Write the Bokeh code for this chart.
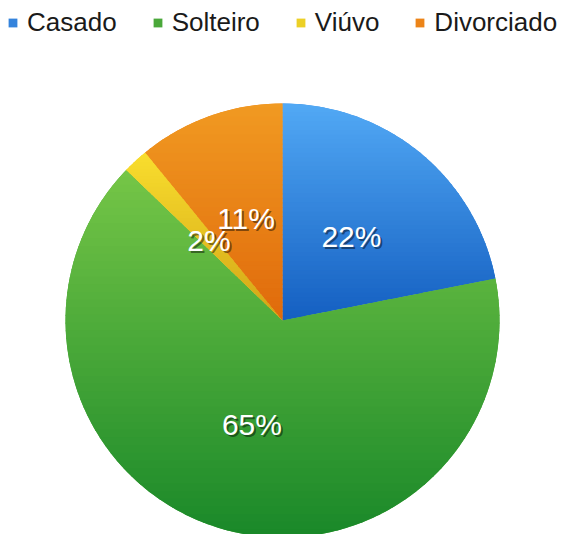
import math
from bokeh.plotting import figure
from bokeh.models import ColumnDataSource, Legend, LegendItem
from bokeh.core.properties import value
from bokeh.embed import file_html
from bokeh.resources import INLINE

categories = ["Casado", "Solteiro", "Viúvo", "Divorciado"]
shares = [21.9, 65.3, 1.9, 10.9]
labels = ["22%", "65%", "2%", "11%"]
colors = ["#3483dc", "#4aa83a", "#ecd026", "#ec8418"]
top_colors = ["#52a9f5", "#76c647", "#f9de2e", "#f19a22"]
bottom_colors = ["#145fc1", "#198829", "#d2a416", "#e06a0b"]

W, H = 566, 534
cx, cy, R = 282, H - 320, 217

total = sum(shares)
starts, ends, lx, ly = [], [], [], []
a = math.pi / 2
for s in shares:
    sweep = 2 * math.pi * s / total
    starts.append(a - sweep)
    ends.append(a)
    mid = a - sweep / 2
    lx.append(cx + 0.5 * R * math.cos(mid))
    ly.append(cy + 0.5 * R * math.sin(mid))
    a -= sweep

src = ColumnDataSource(dict(cat=categories, start=starts, end=ends, color=colors,
                            lx=lx, ly=ly, lab=labels,
                            sx=[v + 2 for v in lx], sy=[v - 2 for v in ly]))

p = figure(width=W, height=H, x_range=(0, W), y_range=(0, H),
           output_backend="svg", toolbar_location=None, min_border=0)
p.axis.visible = False
p.grid.visible = False
p.outline_line_color = None
p.background_fill_color = "white"
p.border_fill_color = "white"

r = p.wedge(x=cx, y=cy, radius=R, start_angle="start", end_angle="end",
            fill_color="color", line_color=None, source=src)


def hex2rgb(h):
    return tuple(int(h[i:i + 2], 16) for i in (1, 3, 5))


def mix(c1, c2, t):
    a1, a2 = hex2rgb(c1), hex2rgb(c2)
    return "#%02x%02x%02x" % tuple(int(round(a1[k] + (a2[k] - a1[k]) * t)) for k in range(3))


def clip(poly, yv, keep_above):
    out = []
    n = len(poly)
    for i in range(n):
        P, Q = poly[i], poly[(i + 1) % n]
        pin = (P[1] >= yv) if keep_above else (P[1] <= yv)
        qin = (Q[1] >= yv) if keep_above else (Q[1] <= yv)
        if pin:
            out.append(P)
        if pin != qin:
            t = (yv - P[1]) / (Q[1] - P[1])
            out.append((P[0] + t * (Q[0] - P[0]), yv))
    return out


# vertical gradient shading of each slice, built from the slice angles
gx, gy, gc = [], [], []
NB = 48
for i in range(len(shares)):
    n = max(8, int((ends[i] - starts[i]) * 60))
    poly = [(cx, cy)] + [(cx + R * math.cos(starts[i] + (ends[i] - starts[i]) * k / n),
                          cy + R * math.sin(starts[i] + (ends[i] - starts[i]) * k / n))
                         for k in range(n + 1)]
    ys = [q[1] for q in poly]
    ytop, ybot = max(ys), min(ys)
    for b in range(NB):
        y1 = ytop - (ytop - ybot) * b / NB
        y0 = ytop - (ytop - ybot) * (b + 1) / NB
        band = clip(clip(poly, y0 - 0.6, True), y1 + 0.6, False)
        if len(band) < 3:
            continue
        gx.append([q[0] for q in band])
        gy.append([q[1] for q in band])
        gc.append(mix(top_colors[i], bottom_colors[i], (b + 0.5) / NB))

p.patches(xs=gx, ys=gy, fill_color=gc, line_color=None)

p.text(x="sx", y="sy", text="lab", source=src, text_font=value("Liberation Sans"),
       text_font_size="30px", text_color="black", text_alpha=0.45,
       text_align="center", text_baseline="middle")
p.text(x="lx", y="ly", text="lab", source=src, text_font=value("Liberation Sans"),
       text_font_size="30px", text_color="white",
       text_align="center", text_baseline="middle")

items = [LegendItem(label=c, renderers=[r], index=i) for i, c in enumerate(categories)]
legend = Legend(items=items, orientation="horizontal", location="top_left",
                margin=7, padding=5, spacing=35, glyph_width=11, glyph_height=11,
                label_standoff=9, label_text_font="Liberation Sans",
                label_text_font_size="26px", label_text_color="#1a1a1a",
                border_line_color=None, background_fill_alpha=0)
p.add_layout(legend, "center")

open("out.html", "w").write(file_html(p, INLINE))
